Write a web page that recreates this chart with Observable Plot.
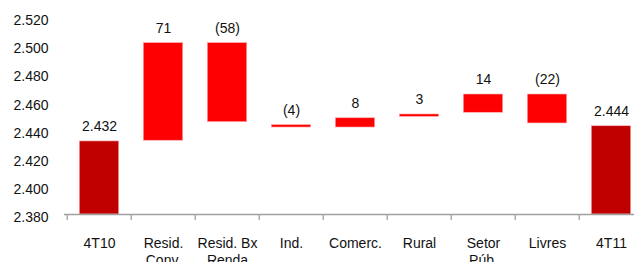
<!DOCTYPE html>
<html>
<head>
<meta charset="utf-8">
<script src="https://cdn.jsdelivr.net/npm/d3@7"></script>
<script src="https://cdn.jsdelivr.net/npm/@observablehq/plot@0.6"></script>
<style>
  html, body { margin: 0; padding: 0; background: #fff; overflow: hidden; }
  #chart svg { overflow: hidden; display: block; }
</style>
</head>
<body>
<div id="chart"></div>
<script>
const categories = ["4T10", "Resid.\nConv.", "Resid. Bx\nRenda", "Ind.", "Comerc.", "Rural", "Setor\nPúb.", "Livres", "4T11"];
const valueLabels = ["2.432", "71", "(58)", "(4)", "8", "3", "14", "(22)", "2.444"];
const barLow  = [2380, 2432.5, 2445.7, 2441.9, 2441.9, 2449.5, 2452.4, 2444.8, 2380];
const barHigh = [2432, 2502, 2502, 2443.6, 2448.5, 2451.2, 2465.4, 2465.4, 2442.8];
const kinds = ["total", "delta", "delta", "delta", "delta", "delta", "delta", "delta", "total"];
const yTicks = [2380, 2400, 2420, 2440, 2460, 2480, 2500, 2520];

const data = categories.map((c, i) => ({cat: c, lo: barLow[i], hi: barHigh[i], label: valueLabels[i], kind: kinds[i]}));

const ptFormat = d3.formatLocale({decimal: ",", thousands: ".", grouping: [3], currency: ["R$", ""]}).format(",d");

const step = (645 - 64) / categories.length;

const chart = Plot.plot({
  width: 634,
  height: 262,
  marginLeft: 64,
  marginRight: 0,
  marginTop: 17.3,
  marginBottom: 48,
  style: {fontFamily: "Liberation Sans, Arial, sans-serif", fontSize: "14px", color: "#111", background: "#fff"},
  x: {domain: categories, range: [64, 645], padding: 0, label: null},
  y: {domain: [2380, 2520], label: null},
  color: {domain: ["total", "delta"], range: ["#c00000", "#ff0000"]},
  marks: [
    Plot.barY(data, {x: "cat", y1: "lo", y2: "hi", fill: "kind", insetLeft: (step - 40) / 2, insetRight: (step - 40) / 2, stroke: "#ffb0b0", strokeWidth: 0.6}),
    Plot.text(data, {x: "cat", y: "hi", text: "label", dy: -14.5, fontSize: 14, fill: "#111"}),
    Plot.ruleY([2380], {stroke: "#a0a0a0", strokeWidth: 1.3}),
    Plot.ruleX(categories, {x: d => d, y1: 2380, y2: 2380, insetBottom: -6, dx: -step / 2, stroke: "#a0a0a0", strokeWidth: 1.3}),
    Plot.axisX({tickSize: 0, tickPadding: 22, fontSize: 14, lineHeight: 1.17, fill: "#111", label: null}),
    Plot.axisY({ticks: yTicks, tickSize: 0, tickPadding: 16, tickFormat: ptFormat, fontSize: 14, dy: 3, fill: "#111", label: null})
  ]
});
document.getElementById("chart").appendChild(chart);
</script>
</body>
</html>
